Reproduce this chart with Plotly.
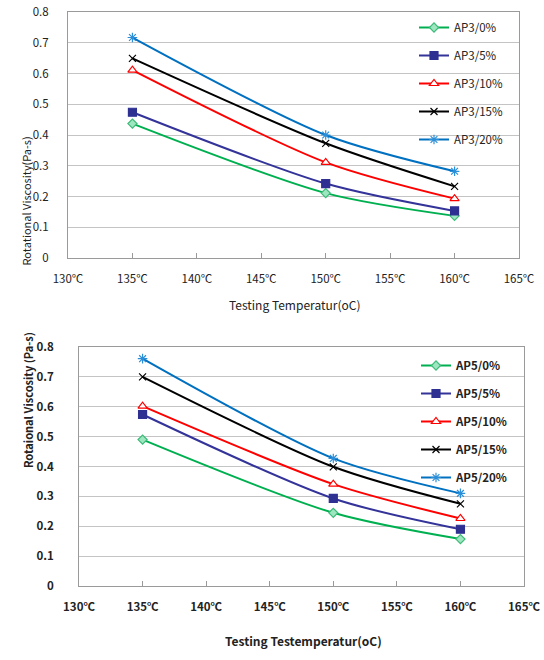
import plotly.graph_objects as go

temps = [135, 150, 160]
x_ticks = [130, 135, 140, 145, 150, 155, 160, 165]
x_tick_labels = ["130℃", "135℃", "140℃", "145℃", "150℃", "155℃", "160℃", "165℃"]
y_ticks = [0, 0.1, 0.2, 0.3, 0.4, 0.5, 0.6, 0.7, 0.8]

ap3_names = ["AP3/0%", "AP3/5%", "AP3/10%", "AP3/15%", "AP3/20%"]
ap3_0 = [0.437, 0.211, 0.137]
ap3_5 = [0.474, 0.242, 0.153]
ap3_10 = [0.611, 0.311, 0.193]
ap3_15 = [0.649, 0.373, 0.233]
ap3_20 = [0.717, 0.400, 0.282]

ap5_names = ["AP5/0%", "AP5/5%", "AP5/10%", "AP5/15%", "AP5/20%"]
ap5_0 = [0.490, 0.245, 0.157]
ap5_5 = [0.574, 0.293, 0.190]
ap5_10 = [0.602, 0.341, 0.226]
ap5_15 = [0.700, 0.399, 0.275]
ap5_20 = [0.761, 0.427, 0.310]

styles = [
    dict(line="#00B050", symbol="diamond", mcolor="#9ee6c0", mline="#3cba78", size=7),
    dict(line="#333399", symbol="square", mcolor="#2e3192", mline="#2e3192", size=8),
    dict(line="#FF0000", symbol="triangle-up", mcolor="white", mline="#FF0000", size=8),
    dict(line="#000000", symbol="x-thin", mcolor="#000000", mline="#000000", size=7),
    dict(line="#0070C0", symbol="asterisk", mcolor="#2a8fd8", mline="#2a8fd8", size=8),
]

W, H = 544, 660

def px(x):
    return x / W

def py(y):
    return 1 - y / H

fig = go.Figure()

def add_series(names, series, xa, ya, legend, gprefix):
    for i, (nm, vals) in enumerate(zip(names, series)):
        s = styles[i]
        fig.add_trace(go.Scatter(
            x=temps, y=vals, name=nm, mode="lines+markers",
            xaxis=xa, yaxis=ya, legend=legend, legendgroup=gprefix + str(i),
            line=dict(color=s["line"], width=2, shape="spline", smoothing=0.8),
            marker=dict(symbol=s["symbol"], size=s["size"], color=s["mcolor"],
                        line=dict(color=s["mline"], width=1.2)),
        ))

add_series(ap3_names, [ap3_0, ap3_5, ap3_10, ap3_15, ap3_20], "x", "y", "legend", "a")
add_series(ap5_names, [ap5_0, ap5_5, ap5_10, ap5_15, ap5_20], "x2", "y2", "legend2", "b")

font_family = "Noto Sans CJK KR, Noto Sans, sans-serif"

def xaxis(domain, anchor, bold):
    return dict(domain=domain, anchor=anchor, range=[130, 165], tickvals=x_ticks,
                ticktext=x_tick_labels, showgrid=False, zeroline=False, automargin=False,
                showline=True, linecolor="#9a9a9a", linewidth=1, mirror=True,
                ticks="inside", ticklen=5, tickcolor="#9a9a9a",
                ticklabelstandoff=10, ticklabeloverflow="allow",
                tickfont=dict(family=font_family, size=11.5, color="#222",
                              weight="bold" if bold else "normal"))

def yaxis(domain, anchor, bold, standoff):
    return dict(domain=domain, anchor=anchor, range=[0, 0.8], tickvals=y_ticks,
                showgrid=True, gridcolor="#c4c4c4", gridwidth=1, automargin=False,
                zeroline=False, showline=True, linecolor="#9a9a9a", linewidth=1,
                mirror=True, ticks="", ticklabelstandoff=standoff, ticklabeloverflow="allow",
                tickfont=dict(family=font_family, size=11.5, color="#222",
                              weight="bold" if bold else "normal"))

fig.update_layout(
    width=W, height=H, margin=dict(l=0, r=0, t=0, b=0, autoexpand=False),
    paper_bgcolor="white", plot_bgcolor="white",
    xaxis=xaxis([px(68), px(519)], "y", False),
    yaxis=yaxis([py(258), py(12)], "x", False, 16),
    xaxis2=xaxis([px(79), px(524)], "y2", True),
    yaxis2=yaxis([py(586), py(347)], "x2", True, 22),
    legend=dict(x=px(414), y=py(13), xanchor="left", yanchor="top",
                bgcolor="rgba(0,0,0,0)", itemwidth=30, tracegroupgap=9,
                font=dict(family=font_family, size=11.5, color="#222")),
    legend2=dict(x=px(416), y=py(351), xanchor="left", yanchor="top",
                 bgcolor="rgba(0,0,0,0)", itemwidth=30, tracegroupgap=9,
                 font=dict(family=font_family, size=11.5, color="#222", weight="bold")),
    annotations=[
        dict(text="Testing Temperatur(oC)", x=px(294), y=py(304), xref="paper", yref="paper",
             showarrow=False, font=dict(family=font_family, size=12, color="#222")),
        dict(text="Rotational Viscosity(Pa-s)", x=px(15), y=py(135), xref="paper", yref="paper",
             showarrow=False, textangle=-90, font=dict(family=font_family, size=11, color="#222")),
        dict(text="Testing Testemperatur(oC)", x=px(303), y=py(651), xref="paper", yref="paper",
             showarrow=False, font=dict(family=font_family, size=12, color="#222", weight="bold")),
        dict(text="Rotaional Viscosity (Pa-s)", x=px(18), y=py(470), xref="paper", yref="paper",
             showarrow=False, textangle=-90, font=dict(family=font_family, size=11, color="#222", weight="bold")),
    ],
)

fig.write_html("out.html", config={"displayModeBar": False},
               post_script="document.body.style.margin='0px';")
